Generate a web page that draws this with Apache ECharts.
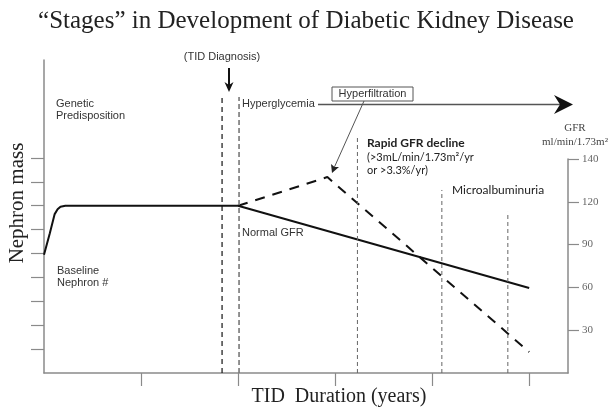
<!DOCTYPE html>
<html><head><meta charset="utf-8">
<script src="https://cdn.jsdelivr.net/npm/echarts@6/dist/echarts.min.js"></script>
<style>html,body{margin:0;padding:0;background:#fff}#c{width:612px;height:412px}</style>
</head><body><div id="c"></div>
<script>
// x in "duration units" (one bottom tick = 1), y in nephron-mass tick units
const nephronX = [0, 0.06, 0.11, 0.14, 0.17, 0.22, 2.0, 5.0];
const nephronY = [4.95, 5.85, 6.65, 6.85, 6.96, 7.0, 7.0, 3.56];
const hyperX = [2.0, 2.92, 5.0];
const hyperY = [7.0, 8.2, 0.88];
const stageX = [1.835, 2.01, 3.23, 4.10, 4.78];
const stageTop = [11.55, 11.55, 9.87, 7.66, 6.74];
const durationTicks = [1, 2, 3, 4, 5];
const nephronTicks = [1, 2, 3, 4, 5, 6, 7, 8, 9];
const gfrTickPos = [1, 2, 3, 4, 5];
const gfrTickLabels = ['30', '60', '90', '120', '140'];

const chart = echarts.init(document.getElementById('c'), null, {renderer: 'canvas'});
const axisGrey = '#8a8a8a';
const sans = 'Liberation Sans';
const serif = 'Liberation Serif';

const series = [];
series.push({type: 'line', xAxisIndex: 0, yAxisIndex: 0, showSymbol: false, silent: true,
  data: nephronX.map((x, i) => [x, nephronY[i]]), lineStyle: {color: '#111', width: 2}});
series.push({type: 'line', xAxisIndex: 0, yAxisIndex: 0, showSymbol: false, silent: true,
  data: hyperX.map((x, i) => [x, hyperY[i]]), lineStyle: {color: '#111', width: 2, type: [10, 8]}});
const vStyles = [
  {color: '#111', width: 1.2, type: [5, 4]},
  {color: '#777', width: 1.6, type: [5, 3]},
  {color: '#666', width: 1, type: [4, 3]},
  {color: '#666', width: 1, type: [4, 3]},
  {color: '#666', width: 1, type: [4, 3]}
];
stageX.forEach((x, i) => {
  series.push({type: 'line', xAxisIndex: 0, yAxisIndex: 0, showSymbol: false, silent: true,
    data: [[x, 0], [x, stageTop[i]]], lineStyle: vStyles[i]});
});

const txt = (x, y, text, o) => Object.assign({type: 'text', x, y, silent: true,
  style: Object.assign({text, fill: '#333', font: '11px "' + sans + '"', textVerticalAlign: 'middle'}, (o || {}))});

const graphic = [
  txt(306, 21, '\u201CStages\u201D in Development of Diabetic Kidney Disease', {font: '25px "' + serif + '"', fill: '#222', textAlign: 'center'}),
  {type: 'text', x: 17, y: 203, rotation: Math.PI / 2, silent: true,
    style: {text: 'Nephron mass', font: '21px "' + serif + '"', fill: '#222', textAlign: 'center', textVerticalAlign: 'middle'}},
  txt(339, 397, 'TID  Duration (years)', {font: '20px "' + serif + '"', fill: '#222', textAlign: 'center'}),
  txt(575, 128, 'GFR', {font: '11px "' + serif + '"', fill: '#444', textAlign: 'center'}),
  txt(575, 142, 'ml/min/1.73m\u00B2', {font: '11px "' + serif + '"', fill: '#444', textAlign: 'center'}),
  txt(222, 57, '(TID Diagnosis)', {textAlign: 'center'}),
  txt(56, 104, 'Genetic', {}),
  txt(56, 116, 'Predisposition', {}),
  txt(57, 271, 'Baseline', {}),
  txt(57, 283, 'Nephron #', {}),
  txt(242, 104, 'Hyperglycemia', {}),
  txt(242, 233, 'Normal GFR', {}),
  txt(367, 143, 'Rapid GFR decline', {font: 'bold 12px Lato', fill: '#222'}),
  txt(367, 157, '(>3mL/min/1.73m\u00B2/yr', {font: '11px Lato', fill: '#222'}),
  txt(367, 170, 'or >3.3%/yr)', {font: '11px Lato', fill: '#222'}),
  txt(452, 190, 'Microalbuminuria', {font: '12px Lato', fill: '#222'}),
  {type: 'rect', shape: {x: 332, y: 87, width: 81, height: 14}, silent: true, style: {fill: 'none', stroke: '#555', lineWidth: 1}},
  txt(372.5, 94, 'Hyperfiltration', {textAlign: 'center'}),
  // horizontal arrow
  {type: 'line', shape: {x1: 318, y1: 104.5, x2: 562, y2: 104.5}, silent: true, style: {stroke: '#555', lineWidth: 1.3}},
  {type: 'polygon', shape: {points: [[573, 104.5], [554, 95], [560, 104.5], [554, 114]]}, silent: true, style: {fill: '#111'}},
  // diagnosis arrow
  {type: 'line', shape: {x1: 229, y1: 68, x2: 229, y2: 86}, silent: true, style: {stroke: '#111', lineWidth: 2}},
  {type: 'polygon', shape: {points: [[229, 92], [224.5, 82], [229, 85], [233.5, 82]]}, silent: true, style: {fill: '#111'}},
  // hyperfiltration arrow
  {type: 'line', shape: {x1: 364, y1: 101, x2: 334, y2: 168}, silent: true, style: {stroke: '#555', lineWidth: 1}},
  {type: 'polygon', shape: {points: [[332, 173], [339, 167], [334.5, 167], [331, 164]]}, silent: true, style: {fill: '#222'}}
];

chart.setOption({
  animation: false,
  backgroundColor: '#fff',
  grid: [
    {left: 44, right: 44, top: 60, bottom: 39, containLabel: false},
    {left: 44, right: 44, top: 159, bottom: 39, containLabel: false}
  ],
  xAxis: [
    {type: 'value', gridIndex: 0, min: 0, max: 5.4, interval: 1,
      axisLine: {show: true, onZero: false, lineStyle: {color: axisGrey, width: 1.5}},
      axisTick: {show: true, inside: false, length: 13, customValues: durationTicks, lineStyle: {color: axisGrey, width: 1.2}},
      axisLabel: {show: false}, splitLine: {show: false}},
    {type: 'value', gridIndex: 1, min: 0, max: 5.4, show: false}
  ],
  yAxis: [
    {type: 'value', gridIndex: 0, min: 0, max: 13.1, interval: 1, position: 'left',
      axisLine: {show: true, onZero: false, lineStyle: {color: axisGrey, width: 1.5}},
      axisTick: {show: true, inside: false, length: 13, customValues: nephronTicks, lineStyle: {color: axisGrey, width: 1.2}},
      axisLabel: {show: false}, splitLine: {show: false}},
    {type: 'value', gridIndex: 1, min: 0, max: 5, interval: 1, position: 'right',
      axisLine: {show: true, onZero: false, lineStyle: {color: axisGrey, width: 1.5}},
      axisTick: {show: true, inside: false, length: 11, customValues: gfrTickPos, lineStyle: {color: axisGrey, width: 1.2}},
      axisLabel: {show: true, inside: false, customValues: gfrTickPos, margin: 14, color: '#666', fontFamily: serif, fontSize: 11,
        formatter: v => gfrTickLabels[gfrTickPos.indexOf(v)] || ''},
      splitLine: {show: false}}
  ],
  series: series,
  graphic: graphic
});
</script></body></html>
